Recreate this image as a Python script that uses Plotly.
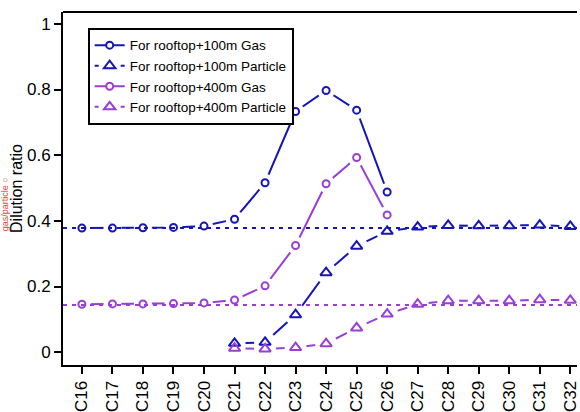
import plotly.graph_objects as go

# Sampling positions along the street canyon
categories = ["C16", "C17", "C18", "C19", "C20", "C21", "C22", "C23", "C24",
              "C25", "C26", "C27", "C28", "C29", "C30", "C31", "C32"]

# Dilution ratio per position (None where the series has no value)
gas_100 = [0.378, 0.378, 0.379, 0.380, 0.384, 0.405, 0.516, 0.733, 0.797,
           0.737, 0.488, None, None, None, None, None, None]
gas_400 = [0.146, 0.147, 0.147, 0.148, 0.150, 0.159, 0.202, 0.325, 0.513,
           0.593, 0.418, None, None, None, None, None, None]
particle_100 = [None, None, None, None, None, 0.027, 0.030, 0.114, 0.242,
                0.323, 0.368, 0.381, 0.386, 0.385, 0.385, 0.387, 0.383]
particle_400 = [None, None, None, None, None, 0.012, 0.010, 0.014, 0.026,
                0.074, 0.116, 0.146, 0.157, 0.157, 0.157, 0.160, 0.158]

# Background dilution levels drawn as dotted reference lines
ref_100 = 0.378
ref_400 = 0.144

y_ticks = [0, 0.2, 0.4, 0.6, 0.8, 1]
y_ticktext = ["0", "0.2", "0.4", "0.6", "0.8", "1"]

series_names = ["For rooftop+100m Gas", "For rooftop+100m Particle",
                "For rooftop+400m Gas", "For rooftop+400m Particle"]

BLUE = "#1616b8"
PURPLE = "#9a3fd4"
FONT = "Liberation Sans, Arial, sans-serif"

x_idx = list(range(len(categories)))

series = [
    (gas_100, BLUE, "circle", 7, 18, "solid"),
    (particle_100, BLUE, "triangle-up", 10, 22, "4px,22px"),
    (gas_400, PURPLE, "circle", 7, 18, "solid"),
    (particle_400, PURPLE, "triangle-up", 10, 22, "4px,22px"),
]

fig = go.Figure()

# connecting lines
for values, color, symbol, msize, gap, dash in series:
    fig.add_trace(go.Scatter(
        x=x_idx, y=values, mode="lines", showlegend=False,
        line=dict(color=color, width=2), connectgaps=False,
        hoverinfo="skip"))

# white discs that open a gap in the lines around each point
for values, color, symbol, msize, gap, dash in series:
    fig.add_trace(go.Scatter(
        x=x_idx, y=values, mode="markers", showlegend=False,
        marker=dict(symbol="circle", size=gap, color="white",
                    line=dict(width=0)),
        hoverinfo="skip"))

# open point symbols
for values, color, symbol, msize, gap, dash in series:
    fig.add_trace(go.Scatter(
        x=x_idx, y=values, mode="markers", showlegend=False,
        marker=dict(symbol=symbol + "-open", size=msize, color=color,
                    line=dict(width=2, color=color))))

# legend entries
for name, (values, color, symbol, msize, gap, dash) in zip(series_names, series):
    fig.add_trace(go.Scatter(
        x=[None], y=[None], mode="lines+markers", name=name,
        line=dict(color=color, width=2, dash=dash),
        marker=dict(symbol=symbol, size=msize, color="white",
                    line=dict(width=2, color=color))))

shapes = [
    # top frame line
    dict(type="line", xref="paper", yref="paper", x0=0, x1=1, y0=1, y1=1,
         line=dict(color="black", width=2)),
]
for level, color in [(ref_100, BLUE), (ref_400, PURPLE)]:
    shapes.append(dict(type="line", xref="paper", yref="y", x0=0, x1=1,
                       y0=level, y1=level, layer="above",
                       line=dict(color=color, width=2, dash="4px,5px")))

fig.update_layout(
    width=580, height=412,
    margin=dict(l=63, r=0, t=12, b=41),
    paper_bgcolor="white", plot_bgcolor="white",
    font=dict(family=FONT, color="black"),
    shapes=shapes,
    showlegend=True,
    legend=dict(x=0.048, y=0.955, xanchor="left", yanchor="top",
                bgcolor="white", bordercolor="black", borderwidth=2,
                font=dict(size=13.5, family=FONT), itemwidth=30,
                tracegroupgap=0),
    annotations=[
        dict(text="gas/particle \u25cb", xref="paper", yref="paper",
             x=-0.1112, y=0.455, xanchor="center", yanchor="middle",
             textangle=-90, showarrow=False,
             font=dict(size=9, family=FONT, color="#e0453c")),
    ],
)

fig.update_xaxes(
    range=[-0.62, 16.22], tickmode="array", tickvals=x_idx,
    ticktext=categories, tickangle=-90, ticklabeloverflow="allow",
    showline=True, linecolor="black", linewidth=2,
    ticks="outside", ticklen=7, tickwidth=1.5, tickcolor="black",
    showgrid=False, zeroline=False,
    tickfont=dict(size=17, family=FONT, color="black"))

fig.update_yaxes(
    range=[-0.039, 1.036], tickmode="array", tickvals=y_ticks,
    ticktext=y_ticktext,
    title=dict(text="Dilution ratio", standoff=0,
               font=dict(size=16, family=FONT, color="black")),
    showline=True, linecolor="black", linewidth=2,
    ticks="outside", ticklen=7, tickwidth=1.5, tickcolor="black",
    showgrid=False, zeroline=False,
    tickfont=dict(size=17, family=FONT, color="black"))

fig.write_html("out.html")
